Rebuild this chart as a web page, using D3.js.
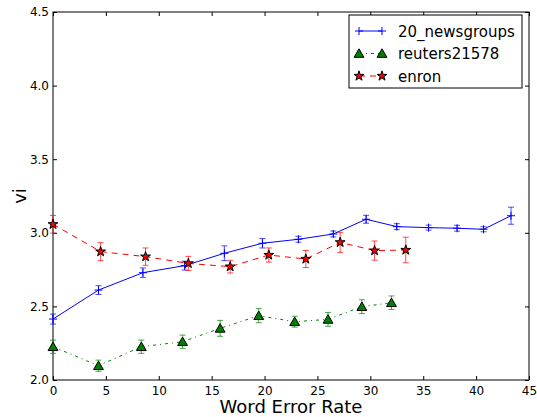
<!DOCTYPE html>
<html>
<head>
<meta charset="utf-8">
<script src="https://cdn.jsdelivr.net/npm/d3@7"></script>
<style>
  body { margin: 0; background: #fff; }
  text { font-family: "DejaVu Sans", sans-serif; }
</style>
</head>
<body>
<div id="chart"></div>
<script>
// data
var newsX = [0, 4.3, 8.5, 12.45, 16.2, 19.8, 23.2, 26.5, 29.6, 32.5, 35.5, 38.2, 40.7, 43.3];
var newsY = [2.414, 2.611, 2.729, 2.777, 2.861, 2.929, 2.956, 2.992, 3.092, 3.042, 3.035, 3.031, 3.024, 3.116];
var newsErr = [0.034, 0.03, 0.032, 0.03, 0.05, 0.032, 0.02, 0.02, 0.027, 0.02, 0.017, 0.02, 0.017, 0.058];

var reutersX = [0, 4.3, 8.35, 12.25, 15.8, 19.45, 22.85, 26.0, 29.2, 32.0];
var reutersY = [2.226, 2.097, 2.226, 2.26, 2.351, 2.437, 2.396, 2.412, 2.498, 2.525];
var reutersErr = [0.045, 0.038, 0.045, 0.045, 0.054, 0.048, 0.037, 0.047, 0.047, 0.046];

var enronX = [0, 4.5, 8.75, 12.8, 16.75, 20.4, 23.9, 27.15, 30.4, 33.35];
var enronY = [3.058, 2.872, 2.838, 2.792, 2.770, 2.849, 2.822, 2.935, 2.879, 2.883];
var enronErr = [0.06, 0.061, 0.059, 0.048, 0.043, 0.048, 0.058, 0.068, 0.065, 0.087];

var xTicks = [0, 5, 10, 15, 20, 25, 30, 35, 40, 45];
var yTicks = [2.0, 2.5, 3.0, 3.5, 4.0, 4.5];

var svgWidth = 537;
var svgHeight = 417;
var margin = { top: 12, right: 8, bottom: 37, left: 53 };
var width = svgWidth - margin.left - margin.right;
var height = svgHeight - margin.top - margin.bottom;

var svg = d3.select("#chart")
  .append("svg")
  .attr("width", svgWidth)
  .attr("height", svgHeight);

var chartGroup = svg.append("g")
  .attr("transform", `translate(${margin.left}, ${margin.top})`);

var xScale = d3.scaleLinear().domain([0, 45]).range([0, width]);
var yScale = d3.scaleLinear().domain([2.0, 4.5]).range([height, 0]);

// axes with inward ticks on all four sides
function styleAxis(g) {
  g.select(".domain").remove();
  g.selectAll(".tick line").attr("stroke", "#000");
  g.selectAll(".tick text").attr("font-size", "12px").attr("fill", "#000")
    .attr("font-family", "DejaVu Sans, sans-serif");
}

chartGroup.append("g")
  .attr("transform", `translate(0, ${height})`)
  .call(d3.axisBottom(xScale).tickValues(xTicks).tickFormat(d3.format("d")).tickSizeInner(-4).tickPadding(6))
  .call(styleAxis);

chartGroup.append("g")
  .call(d3.axisTop(xScale).tickValues(xTicks).tickSizeInner(-4).tickFormat(""))
  .call(styleAxis);

chartGroup.append("g")
  .call(d3.axisLeft(yScale).tickValues(yTicks).tickFormat(d3.format(".1f")).tickSizeInner(-4).tickPadding(4))
  .call(styleAxis);

chartGroup.append("g")
  .attr("transform", `translate(${width}, 0)`)
  .call(d3.axisRight(yScale).tickValues(yTicks).tickSizeInner(-4).tickFormat(""))
  .call(styleAxis);

chartGroup.append("rect")
  .attr("width", width)
  .attr("height", height)
  .attr("fill", "none")
  .attr("stroke", "#000")
  .attr("stroke-width", 1);

// axis labels
svg.append("text")
  .attr("x", margin.left + width / 2)
  .attr("y", 413)
  .attr("text-anchor", "middle")
  .attr("font-size", "18px")
  .text("Word Error Rate");

svg.append("text")
  .attr("transform", `translate(26, ${margin.top + height / 2}) rotate(-90)`)
  .attr("text-anchor", "middle")
  .attr("font-size", "18px")
  .text("vi");

var starPath = d3.symbol().type(d3.symbolStar).size(30)();
var triPath = d3.symbol().type(d3.symbolTriangle).size(42)();

var series = [
  { name: "20_newsgroups", xs: newsX, ys: newsY, errs: newsErr, color: "#0000ff", dash: null, marker: "plus" },
  { name: "reuters21578", xs: reutersX, ys: reutersY, errs: reutersErr, color: "#008000", dash: "3,4,1,4", marker: "tri" },
  { name: "enron", xs: enronX, ys: enronY, errs: enronErr, color: "#ff0000", dash: "6,5", marker: "star" }
];

svg.append("clipPath").attr("id", "plotClip")
  .append("rect").attr("x", -6).attr("y", 0).attr("width", width + 6).attr("height", height);

function drawMarker(g, s, cx, cy) {
  if (s.marker === "plus") {
    g.append("path")
      .attr("d", `M${cx - 4},${cy}H${cx + 4}M${cx},${cy - 4}V${cy + 4}`)
      .attr("stroke", s.color).attr("stroke-width", 1);
  } else if (s.marker === "tri") {
    g.append("path")
      .attr("d", triPath)
      .attr("transform", `translate(${cx}, ${cy + 1})`)
      .attr("fill", s.color).attr("stroke", "#000").attr("stroke-width", 1);
  } else {
    g.append("path")
      .attr("d", starPath)
      .attr("transform", `translate(${cx}, ${cy})`)
      .attr("fill", s.color).attr("stroke", "#000").attr("stroke-width", 1);
  }
}

series.forEach(s => {
  var pts = s.xs.map((x, i) => ({ x: x, y: s.ys[i], e: s.errs[i] }));
  var g = chartGroup.append("g").attr("clip-path", "url(#plotClip)");

  var line = d3.line().x(d => xScale(d.x)).y(d => yScale(d.y));
  g.append("path")
    .datum(pts)
    .attr("d", line)
    .attr("fill", "none")
    .attr("stroke", s.color)
    .attr("stroke-width", 1)
    .attr("stroke-dasharray", s.dash);

  // error bars
  pts.forEach(d => {
    var cx = xScale(d.x);
    var y1 = yScale(d.y - d.e);
    var y2 = yScale(d.y + d.e);
    g.append("path")
      .attr("d", `M${cx},${y1}V${y2}M${cx - 3},${y1}H${cx + 3}M${cx - 3},${y2}H${cx + 3}`)
      .attr("stroke", s.color)
      .attr("stroke-opacity", 0.7)
      .attr("stroke-width", 1)
      .attr("fill", "none");
  });

  pts.forEach(d => drawMarker(g, s, xScale(d.x), yScale(d.y)));
});

// legend
var legend = svg.append("g").attr("transform", "translate(349, 15)");
legend.append("rect")
  .attr("width", 173)
  .attr("height", 73)
  .attr("fill", "#fff")
  .attr("stroke", "#000")
  .attr("stroke-width", 1);

series.forEach((s, i) => {
  var ly = 16 + i * 22.5;
  legend.append("line")
    .attr("x1", 10).attr("x2", 33)
    .attr("y1", ly).attr("y2", ly)
    .attr("stroke", s.color)
    .attr("stroke-width", 1)
    .attr("stroke-dasharray", s.dash);
  drawMarker(legend, s, 10, ly);
  drawMarker(legend, s, 33, ly);
  legend.append("text")
    .attr("x", 49)
    .attr("y", ly + 5.5)
    .attr("font-size", "15px")
    .text(s.name);
});
</script>
</body>
</html>
